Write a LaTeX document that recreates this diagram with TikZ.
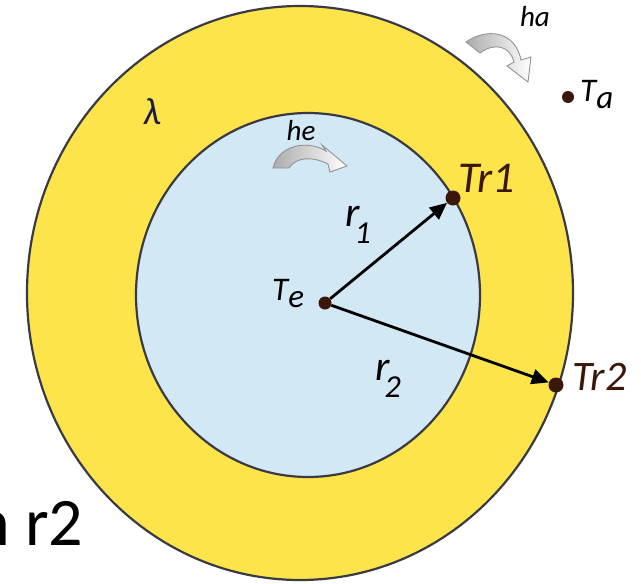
\documentclass[tikz,border=0pt]{standalone}
\usepackage{fontspec}
\setmainfont{Carlito}
\usetikzlibrary{arrows.meta,positioning}
\definecolor{wallyellow}{HTML}{FCE44A}
\definecolor{coreblue}{HTML}{D3E8F5}
\definecolor{rimgray}{HTML}{3A3A44}
\definecolor{dotbrown}{HTML}{3A170A}
\definecolor{lambdablue}{HTML}{1C1C48}

\begin{document}
\begin{tikzpicture}[x=1pt,y=-1pt]
\tikzset{
  tempdot/.style={circle,fill=dotbrown,inner sep=0pt,minimum size=#1},
  tempdot/.default=12pt,
  lbl/.style={inner sep=0pt,font=\fontsize{#1}{#1}\selectfont\itshape},
  radiusarrow/.style={-{Triangle[length=17pt,width=15pt]},line width=2.8pt,black},
  flowarrow/.style={left color=gray!65,right color=white,draw=gray!85,line width=0.9pt}
}
\useasboundingbox (0,0) rectangle (641,584);
\clip (0,0) rectangle (641,584);
% wall and inner core
\draw[fill=wallyellow,draw=rimgray,line width=2.2pt] (300,293) ellipse [x radius=273, y radius=287];
\draw[fill=coreblue,draw=rimgray,line width=2.2pt] (308,295) ellipse [x radius=172, y radius=182];
% temperature points
\node[tempdot=13pt] (Te) at (325,303) {};
\node[tempdot=15pt] (Tr1) at (453,198) {};
\node[tempdot=15pt] (Tr2) at (556,385) {};
\node[tempdot=12pt] (Ta) at (568,97) {};
% radii
\draw[radiusarrow] (Te) -- (Tr1);
\draw[radiusarrow] (Te) -- (Tr2);
% heat transfer arrows
\path[flowarrow] (273,168) .. controls (278,146) and (306,139) .. (326,151)
  -- (322,145) -- (347,166) -- (330,172) -- (328,164)
  .. controls (312,156) and (296,157) .. (289,168) -- cycle;
\path[flowarrow] (466,42) .. controls (486,28) and (515,30) .. (521,60)
  -- (531,57) -- (528,82) -- (507,66) -- (514,62)
  .. controls (510,46) and (495,42) .. (480,53) -- cycle;
% labels
\node[lbl=44,text=dotbrown,anchor=base west] (Tr1lbl) at (458,192) {Tr1};
\node[lbl=42,text=dotbrown,anchor=base west] (Tr2lbl) at (572,390) {Tr2};
\node[lbl=33,anchor=base west] (Telbl) at (272,300) {T\raisebox{-7pt}{e}};
\node[lbl=33,anchor=base west] (Talbl) at (580,101) {T\raisebox{-7pt}{a}};
\node[lbl=42,anchor=base west] (r1lbl) at (345,226) {r\kern-5pt\raisebox{-17pt}{\fontsize{32}{32}\selectfont 1}};
\node[lbl=42,anchor=base west] (r2lbl) at (375,380) {r\kern-5pt\raisebox{-17pt}{\fontsize{32}{32}\selectfont 2}};
\node[lbl=29,anchor=base] (helbl) at (301,140) {he};
\node[lbl=29,anchor=base] (halbl) at (535,26) {ha};
\node[lbl=38,text=lambdablue,anchor=base] (lambdalbl) at (152,124) {λ};
\node[inner sep=0pt,font=\fontsize{68}{68}\selectfont,anchor=base west] (caption) at (-26,545) {n r2};
\end{tikzpicture}
\end{document}
